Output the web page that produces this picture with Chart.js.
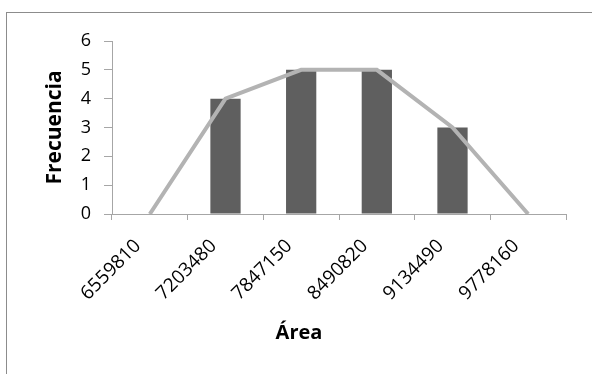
<!DOCTYPE html>
<html>
<head>
<meta charset="utf-8">
<script src="https://cdn.jsdelivr.net/npm/chart.js@4"></script>
<style>
  html, body { margin: 0; padding: 0; background: #fff; }
  #wrap { position: relative; width: 592px; height: 374px; overflow: hidden; }
  #frame { position: absolute; left: 6px; top: 12px; width: 640px; height: 420px; border: 1px solid #8c8c8c; box-sizing: border-box; }
  #freqChart { position: absolute; left: 0; top: 0; }
</style>
</head>
<body>
<div id="wrap">
  <div id="frame"></div>
  <canvas id="freqChart" width="592" height="374"></canvas>
</div>
<script>
var categories = ['6559810', '7203480', '7847150', '8490820', '9134490', '9778160'];
var frecuencia = [0, 4, 5, 5, 3, 0];
var poligono = [0, 4, 5, 5, 3, 0];
var yTicks = [0, 1, 2, 3, 4, 5, 6];

var axisColor = '#a6a6a6';
var fontFamily = '"Open Sans", "Liberation Sans", sans-serif';

// x-axis title drawn by hand so it sits where the original puts it
var xTitlePlugin = {
  id: 'xTitle',
  afterDraw: function(chart) {
    var ctx = chart.ctx;
    ctx.save();
    ctx.font = 'bold 20px ' + fontFamily;
    ctx.fillStyle = '#000';
    ctx.textAlign = 'center';
    ctx.textBaseline = 'middle';
    ctx.fillText('Área', 299, 333);
    ctx.restore();
  }
};

var canvasElement = document.getElementById('freqChart');
var chart = new Chart(canvasElement, {
  type: 'bar',
  data: {
    labels: categories,
    datasets: [
      {
        type: 'line',
        label: 'Polígono',
        data: poligono,
        borderColor: '#b3b3b3',
        borderWidth: 4,
        pointRadius: 0,
        tension: 0,
        order: 0
      },
      {
        label: 'Frecuencia',
        data: frecuencia,
        backgroundColor: '#5f5f5f',
        categoryPercentage: 1,
        barPercentage: 0.4,
        order: 1
      }
    ]
  },
  options: {
    responsive: false,
    animation: false,
    layout: { padding: { top: 41, right: 26, left: 0, bottom: 0 } },
    plugins: { legend: { display: false }, tooltip: { enabled: false } },
    scales: {
      x: {
        offset: true,
        grid: { offset: true, drawOnChartArea: false, tickLength: 6, color: axisColor, tickColor: axisColor },
        border: { color: axisColor, width: 1 },
        ticks: {
          minRotation: 45, maxRotation: 45, padding: 15, labelOffset: -12,
          color: '#000',
          font: { family: fontFamily, size: 19 }
        },
        afterFit: function(scale) { scale.height = 160; }
      },
      y: {
        min: 0, max: 6,
        afterBuildTicks: function(scale) {
          scale.ticks = yTicks.map(function(v) { return { value: v }; });
        },
        grid: { drawOnChartArea: false, tickLength: 8, color: axisColor, tickColor: axisColor },
        border: { color: axisColor, width: 1 },
        ticks: {
          padding: 13,
          color: '#000',
          font: { family: fontFamily, size: 18 }
        },
        title: {
          display: true,
          text: 'Frecuencia',
          color: '#000',
          font: { family: fontFamily, size: 21, weight: 'bold' },
          padding: { top: 42, bottom: 0 }
        },
        afterFit: function(scale) { scale.width = 112; }
      }
    }
  },
  plugins: [xTitlePlugin]
});
</script>
</body>
</html>
